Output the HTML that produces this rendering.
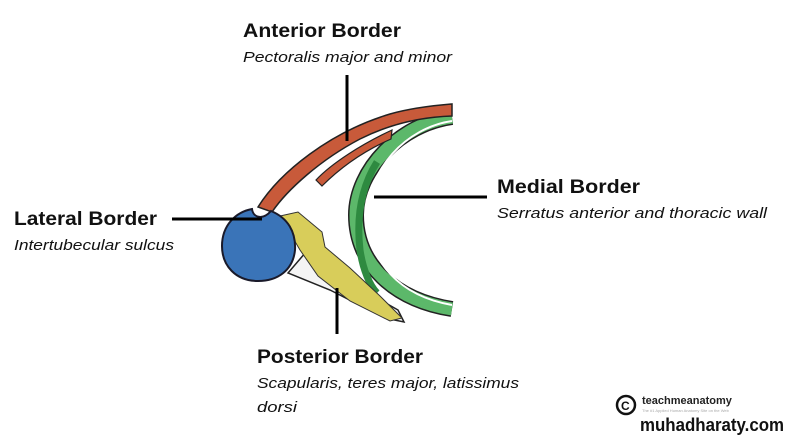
<!DOCTYPE html>
<html><head><meta charset="utf-8"><style>html,body{margin:0;padding:0;background:#fff;width:790px;height:438px;overflow:hidden}</style></head>
<body>
<svg width="790" height="438" viewBox="0 0 790 438" xmlns="http://www.w3.org/2000/svg" font-family="Liberation Sans, sans-serif">
<!-- green ring -->
<path d="M452,117 C400,124 356,170 356,215 C356,265 395,300 452,309" fill="none" stroke="#222" stroke-width="16"/>
<path d="M452,117 C400,124 356,170 356,215 C356,265 395,300 452,309" fill="none" stroke="#5cb86a" stroke-width="13"/>
<path d="M452,121 C405,128 368,170 368,215 C368,262 400,296 452,305" fill="none" stroke="#fff" stroke-width="2"/>
<path d="M377,162 C362,186 356,215 360,250 C363,270 370,286 377,293" fill="none" stroke="#2e8a40" stroke-width="7"/>
<!-- red muscle -->
<path d="M258,207 C280,172 330,132 390,114 C415,107 440,105 452,104 L452,116 C420,117 390,124 360,139 C320,160 287,190 272,212 Z" fill="#c85a3a" stroke="#222" stroke-width="1.5"/>
<path d="M316,180 C332,163 362,144 392,130 L391,139 C366,150 342,166 322,186 Z" fill="#c85a3a" stroke="#222" stroke-width="1.2"/>
<!-- scapula -->
<path d="M288,273 L306,252 L345,280 L398,310 L404,322 L385,318 L330,290 Z" fill="#f4f4f4" stroke="#222" stroke-width="1.5"/>
<!-- yellow muscle -->
<path d="M280,216 L298,212 L322,232 L325,247 L350,268 L380,296 L402,318 L390,321 L350,301 L318,276 L300,250 Z" fill="#d8cd5a" stroke="#333" stroke-width="1"/>
<!-- humerus -->
<path d="M271,211 C288,218 296,232 295,250 C293,270 278,281 258,281 C236,281 222,266 222,246 C222,225 236,212 252,209 C253,217 262,221 271,211 Z" fill="#3a74b8" stroke="#1a1a2a" stroke-width="2"/>
<!-- leader lines -->
<g stroke="#000" stroke-width="3">
<line x1="347" y1="75" x2="347" y2="141"/>
<line x1="172" y1="219" x2="262" y2="219"/>
<line x1="374" y1="197" x2="487" y2="197"/>
<line x1="337" y1="288" x2="337" y2="334"/>
</g>
<g fill="#111">
<text x="243" y="37" font-size="19" font-weight="bold" textLength="158" lengthAdjust="spacingAndGlyphs">Anterior Border</text>
<text x="243" y="62" font-size="15" font-style="italic" textLength="209" lengthAdjust="spacingAndGlyphs">Pectoralis major and minor</text>
<text x="14" y="225" font-size="19" font-weight="bold" textLength="143" lengthAdjust="spacingAndGlyphs">Lateral Border</text>
<text x="14" y="250" font-size="15" font-style="italic" textLength="160" lengthAdjust="spacingAndGlyphs">Intertubecular sulcus</text>
<text x="497" y="193" font-size="19" font-weight="bold" textLength="143" lengthAdjust="spacingAndGlyphs">Medial Border</text>
<text x="497" y="218" font-size="15" font-style="italic" textLength="270" lengthAdjust="spacingAndGlyphs">Serratus anterior and thoracic wall</text>
<text x="257" y="363" font-size="19" font-weight="bold" textLength="166" lengthAdjust="spacingAndGlyphs">Posterior Border</text>
<text x="257" y="388" font-size="15" font-style="italic" textLength="262" lengthAdjust="spacingAndGlyphs">Scapularis, teres major, latissimus</text>
<text x="257" y="412" font-size="15" font-style="italic" textLength="40" lengthAdjust="spacingAndGlyphs">dorsi</text>
</g>
<circle cx="626" cy="405" r="9" fill="none" stroke="#111" stroke-width="2.5"/>
<text x="621" y="410" font-size="12" font-weight="bold" fill="#111">C</text>
<text x="642" y="404" font-size="11" font-weight="bold" fill="#222">teachmeanatomy</text>
<text x="642" y="412" font-size="4" fill="#aaa">The #1 Applied Human Anatomy Site on the Web</text>
<text x="640" y="431" font-size="18" font-weight="bold" fill="#111" textLength="144" lengthAdjust="spacingAndGlyphs">muhadharaty.com</text>
</svg>
</body></html>
